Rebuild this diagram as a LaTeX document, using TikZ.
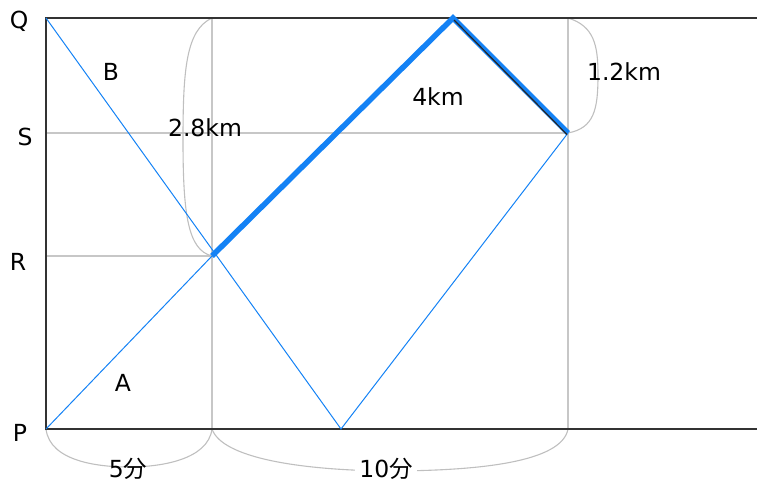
\documentclass[tikz,border=0pt]{standalone}
\usepackage{fontspec}
\usetikzlibrary{calc}
\setmainfont{DejaVu Sans}
\newfontfamily\jpfont{Noto Sans CJK JP}
\definecolor{lineblue}{RGB}{20,130,245}
\begin{document}
\begin{tikzpicture}[x=1pt,y=-1pt,
  axisline/.style={draw=black!80,line width=1.5pt},
  guide/.style={draw=black!22,line width=1.1pt},
  brace/.style={draw=black!25,line width=1.1pt},
  thinpath/.style={draw=lineblue,line width=1pt},
  route/.style={draw=lineblue,line width=5.5pt,line join=miter},
  lbl/.style={font=\fontsize{23.5}{26}\selectfont,inner sep=1pt}]
\useasboundingbox (0,0) rectangle (757,481);
% key points
\coordinate (P) at (46,429);
\coordinate (Q) at (46,18);
\coordinate (Pend) at (757,429);
\coordinate (Qend) at (757,18);
\coordinate (Sleft) at (46,133);
\coordinate (Rleft) at (46,256);
\coordinate (X) at (212,256);
\coordinate (Xtop) at (212,18);
\coordinate (Xbot) at (212,429);
\coordinate (T) at (453,18);
\coordinate (U) at (568,133);
\coordinate (Utop) at (568,18);
\coordinate (Ubot) at (568,429);
\coordinate (V) at (341,429);
% guides
\draw[guide] (Xtop) -- (Xbot);
\draw[guide] (Utop) -- (Ubot);
\draw[guide] (Sleft) -- (U);
\draw[guide] (Rleft) -- (X);
% braces
\draw[brace] (Xtop) .. controls (186,30) and (183,70) .. (183,140) .. controls (183,215) and (188,250) .. (X);
\draw[brace] (Utop) .. controls (594,26) and (598,45) .. (598,75) .. controls (598,110) and (594,128) .. (U);
\draw[brace] (P) .. controls (50,462) and (100,467) .. (129,467) .. controls (160,467) and (208,460) .. (Xbot);
\draw[brace] (Xbot) .. controls (222,458) and (300,470) .. (386,471) .. controls (480,471) and (562,462) .. (Ubot);
% axes
\draw[axisline] (Qend) -- (Q) -- (P) -- (Pend);
% thin paths
\draw[thinpath] (P) -- (X);
\draw[thinpath] (Q) -- (V) -- (U);
% thick route
\draw[route] (X) -- (T) -- (U);
\draw[draw=black!85,line width=1.2pt] ($(T)+(1,2)$) -- ($(U)+(-1,1.5)$);
% labels
\node[lbl] (q) at (19,21) {Q};
\node[lbl] (s) at (25,137) {S};
\node[lbl] (r) at (18,262) {R};
\node[lbl] (p) at (20,433) {P};
\node[lbl] (b) at (111,72) {B};
\node[lbl] (a) at (123,383) {A};
\node[lbl] (d1) at (205,128) {2.8km};
\node[lbl] (d2) at (438,97) {4km};
\node[lbl] (d3) at (624,72) {1.2km};
\node[lbl] (t1) at (128,469) {5{\jpfont 分}};
\node[lbl,fill=white,inner xsep=4pt] (t2) at (386,469) {10{\jpfont 分}};
\end{tikzpicture}
\end{document}
